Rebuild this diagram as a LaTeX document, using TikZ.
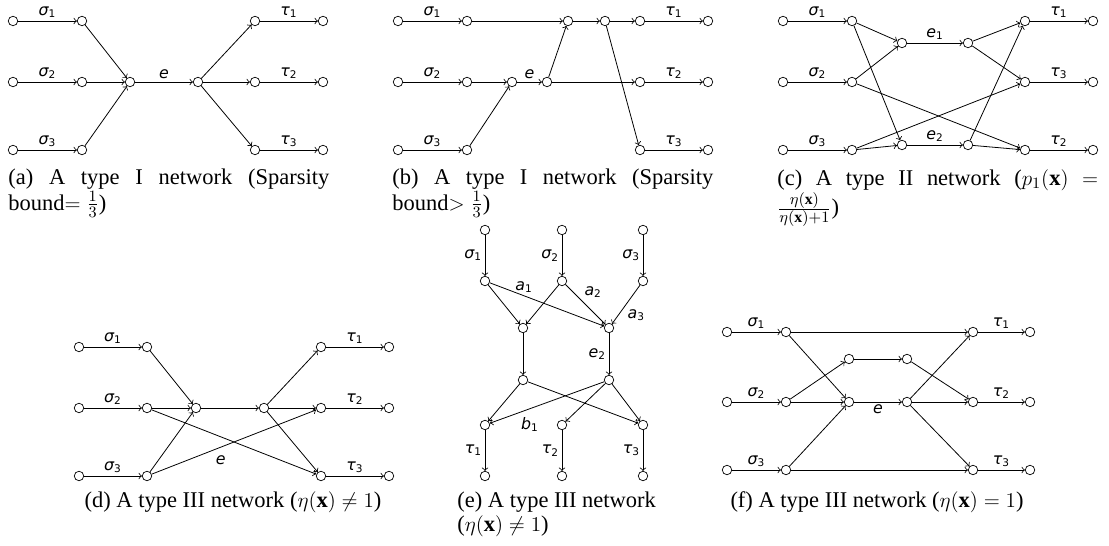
\documentclass[tikz,border=0pt]{standalone}
\usepackage{fontspec}
\usepackage{amsmath,amssymb}
\setmainfont{Liberation Serif}
\newfontfamily\lblfont{DejaVu Sans}
\usetikzlibrary{arrows,positioning}

% label with an upright index
\newcommand{\lb}[2]{{\itshape #1}\textsubscript{\upshape #2}}
\newlength{\capw}
\setlength{\capw}{6.42cm}

\begin{document}
\begin{tikzpicture}[x=0.02cm,y=-0.02cm,
    vtx/.style={circle,draw,fill=white,inner sep=0pt,minimum size=0.19cm},
    link/.style={->,line width=0.45pt},
    lab/.style={font=\lblfont\fontsize{9}{10}\selectfont,inner sep=1.5pt},
    capt/.style={font=\fontsize{12.8}{13.2}\selectfont,inner sep=0pt,align=left}
  ]
    \useasboundingbox (0,0) rectangle (1109,546);

    % (a) type I network, sparsity bound = 1/3
    \node[vtx] (as1) at (13,21) {};  \node[vtx] (au1) at (82,21) {};
    \node[vtx] (as2) at (13,82) {};  \node[vtx] (au2) at (82,82) {};
    \node[vtx] (as3) at (13,150) {}; \node[vtx] (au3) at (82,150) {};
    \node[vtx] (am) at (130,82) {};  \node[vtx] (an) at (198,82) {};
    \node[vtx] (av1) at (255,21) {}; \node[vtx] (at1) at (323,21) {};
    \node[vtx] (av2) at (255,82) {}; \node[vtx] (at2) at (323,82) {};
    \node[vtx] (av3) at (255,150) {};\node[vtx] (at3) at (323,150) {};
    \draw[link] (as1) -- node[lab,above] {\lb{σ}{1}} (au1);
    \draw[link] (as2) -- node[lab,above] {\lb{σ}{2}} (au2);
    \draw[link] (as3) -- node[lab,above] {\lb{σ}{3}} (au3);
    \draw[link] (au1) -- (am);
    \draw[link] (au2) -- (am);
    \draw[link] (au3) -- (am);
    \draw[link] (am) -- node[lab,above] {\itshape e} (an);
    \draw[link] (an) -- (av1);
    \draw[link] (an) -- (av2);
    \draw[link] (an) -- (av3);
    \draw[link] (av1) -- node[lab,above] {\lb{τ}{1}} (at1);
    \draw[link] (av2) -- node[lab,above] {\lb{τ}{2}} (at2);
    \draw[link] (av3) -- node[lab,above] {\lb{τ}{3}} (at3);
    \node[capt,anchor=north west] (capa) at (8,169)
      {\makebox[\capw][s]{(a) A type I network (Sparsity}\\bound$=\frac{1}{3}$)};

    % (b) type I network, sparsity bound > 1/3
    \node[vtx] (bs1) at (398,21) {};  \node[vtx] (bu1) at (467,21) {};
    \node[vtx] (bp) at (568,21) {};   \node[vtx] (bq) at (605,21) {};
    \node[vtx] (bv1) at (640,21) {};  \node[vtx] (bt1) at (708,21) {};
    \node[vtx] (bs2) at (398,82) {};  \node[vtx] (bu2) at (467,82) {};
    \node[vtx] (bm) at (512,82) {};   \node[vtx] (bn) at (547,82) {};
    \node[vtx] (bv2) at (640,82) {};  \node[vtx] (bt2) at (708,82) {};
    \node[vtx] (bs3) at (398,150) {}; \node[vtx] (bu3) at (467,150) {};
    \node[vtx] (bv3) at (640,150) {}; \node[vtx] (bt3) at (708,150) {};
    \draw[link] (bs1) -- node[lab,above] {\lb{σ}{1}} (bu1);
    \draw[link] (bs2) -- node[lab,above] {\lb{σ}{2}} (bu2);
    \draw[link] (bs3) -- node[lab,above] {\lb{σ}{3}} (bu3);
    \draw[link] (bu1) -- (bp);
    \draw[link] (bp) -- (bq);
    \draw[link] (bq) -- (bv1);
    \draw[link] (bq) -- (bv3);
    \draw[link] (bu2) -- (bm);
    \draw[link] (bu3) -- (bm);
    \draw[link] (bm) -- node[lab,above] {\itshape e} (bn);
    \draw[link] (bn) -- (bp);
    \draw[link] (bn) -- (bv2);
    \draw[link] (bv1) -- node[lab,above] {\lb{τ}{1}} (bt1);
    \draw[link] (bv2) -- node[lab,above] {\lb{τ}{2}} (bt2);
    \draw[link] (bv3) -- node[lab,above] {\lb{τ}{3}} (bt3);
    \node[capt,anchor=north west] (capb) at (392,169)
      {\makebox[\capw][s]{(b) A type I network (Sparsity}\\bound$>\frac{1}{3}$)};

    % (c) type II network
    \node[vtx] (cs1) at (783,21) {};  \node[vtx] (cu1) at (852,21) {};
    \node[vtx] (cv1) at (1025,21) {}; \node[vtx] (ct1) at (1093,21) {};
    \node[vtx] (cs2) at (783,82) {};  \node[vtx] (cu2) at (852,82) {};
    \node[vtx] (cv2) at (1025,82) {}; \node[vtx] (ct2) at (1093,82) {};
    \node[vtx] (cs3) at (783,150) {}; \node[vtx] (cu3) at (852,150) {};
    \node[vtx] (cv3) at (1025,150) {};\node[vtx] (ct3) at (1093,150) {};
    \node[vtx] (cm1) at (902,43) {};  \node[vtx] (cn1) at (968,43) {};
    \node[vtx] (cm2) at (902,145) {}; \node[vtx] (cn2) at (968,145) {};
    \draw[link] (cs1) -- node[lab,above] {\lb{σ}{1}} (cu1);
    \draw[link] (cs2) -- node[lab,above] {\lb{σ}{2}} (cu2);
    \draw[link] (cs3) -- node[lab,above] {\lb{σ}{3}} (cu3);
    \draw[link] (cu1) -- (cm1);
    \draw[link] (cu1) -- (cm2);
    \draw[link] (cu2) -- (cm1);
    \draw[link] (cu2) -- (cv3);
    \draw[link] (cu3) -- (cm2);
    \draw[link] (cu3) -- (cv2);
    \draw[link] (cm1) -- node[lab,above] {\lb{e}{1}} (cn1);
    \draw[link] (cm2) -- node[lab,above] {\lb{e}{2}} (cn2);
    \draw[link] (cn1) -- (cv1);
    \draw[link] (cn1) -- (cv2);
    \draw[link] (cn2) -- (cv1);
    \draw[link] (cn2) -- (cv3);
    \draw[link] (cv1) -- node[lab,above] {\lb{τ}{1}} (ct1);
    \draw[link] (cv2) -- node[lab,above] {\lb{τ}{3}} (ct2);
    \draw[link] (cv3) -- node[lab,above] {\lb{τ}{2}} (ct3);
    \node[capt,anchor=north west] (capc) at (777,169)
      {\makebox[\capw][s]{(c) A type II network ($p_1(\mathbf{x})$ $=$}\\$\frac{\eta(\mathbf{x})}{\eta(\mathbf{x})+1}$)};

    % (d) type III network, eta(x) != 1
    \node[vtx] (ds1) at (79,347) {};  \node[vtx] (du1) at (147,347) {};
    \node[vtx] (dv1) at (321,347) {}; \node[vtx] (dt1) at (389,347) {};
    \node[vtx] (ds2) at (79,408) {};  \node[vtx] (du2) at (147,408) {};
    \node[vtx] (dm) at (196,408) {};  \node[vtx] (dn) at (264,408) {};
    \node[vtx] (dv2) at (321,408) {}; \node[vtx] (dt2) at (389,408) {};
    \node[vtx] (ds3) at (79,476) {};  \node[vtx] (du3) at (147,476) {};
    \node[vtx] (dv3) at (321,476) {}; \node[vtx] (dt3) at (389,476) {};
    \draw[link] (ds1) -- node[lab,above] {\lb{σ}{1}} (du1);
    \draw[link] (ds2) -- node[lab,above] {\lb{σ}{2}} (du2);
    \draw[link] (ds3) -- node[lab,above] {\lb{σ}{3}} (du3);
    \draw[link] (du1) -- (dm);
    \draw[link] (du2) -- (dm);
    \draw[link] (du3) -- (dm);
    \draw[link] (du2) -- (dv3);
    \draw[link] (du3) -- node[lab,below=3pt,pos=0.42] {\itshape e} (dv2);
    \draw[link] (dm) -- (dn);
    \draw[link] (dn) -- (dv1);
    \draw[link] (dn) -- (dv2);
    \draw[link] (dn) -- (dv3);
    \draw[link] (dv1) -- node[lab,above] {\lb{τ}{1}} (dt1);
    \draw[link] (dv2) -- node[lab,above] {\lb{τ}{2}} (dt2);
    \draw[link] (dv3) -- node[lab,above] {\lb{τ}{3}} (dt3);
    \node[capt,anchor=base] (capd) at (233,508)
      {(d) A type III network ($\eta(\mathbf{x})\neq 1$)};

    % (e) type III network, drawn top to bottom
    \node[vtx] (es1) at (485,230) {}; \node[vtx] (es2) at (562,230) {}; \node[vtx] (es3) at (643,230) {};
    \node[vtx] (eu1) at (485,281) {}; \node[vtx] (eu2) at (562,281) {}; \node[vtx] (eu3) at (643,281) {};
    \node[vtx] (em1) at (523,328) {}; \node[vtx] (em2) at (609,328) {};
    \node[vtx] (en1) at (523,380) {}; \node[vtx] (en2) at (609,380) {};
    \node[vtx] (ev1) at (485,425) {}; \node[vtx] (ev2) at (562,425) {}; \node[vtx] (ev3) at (643,425) {};
    \node[vtx] (et1) at (485,476) {}; \node[vtx] (et2) at (562,476) {}; \node[vtx] (et3) at (643,476) {};
    \draw[link] (es1) -- node[lab,left] {\lb{σ}{1}} (eu1);
    \draw[link] (es2) -- node[lab,left] {\lb{σ}{2}} (eu2);
    \draw[link] (es3) -- node[lab,left] {\lb{σ}{3}} (eu3);
    \draw[link] (eu1) -- (em1);
    \draw[link] (eu1) -- node[lab,above,pos=0.3] {\lb{a}{1}} (em2);
    \draw[link] (eu2) -- (em1);
    \draw[link] (eu2) -- node[lab,above right,pos=0.4] {\lb{a}{2}} (em2);
    \draw[link] (eu3) -- node[lab,below right,pos=0.55] {\lb{a}{3}} (em2);
    \draw[link] (em1) -- (en1);
    \draw[link] (em2) -- node[lab,left] {\lb{e}{2}} (en2);
    \draw[link] (en1) -- (ev1);
    \draw[link] (en1) -- (ev3);
    \draw[link] (en2) -- node[lab,below=3pt,pos=0.65] {\lb{b}{1}} (ev1);
    \draw[link] (en2) -- (ev2);
    \draw[link] (en2) -- (ev3);
    \draw[link] (ev1) -- node[lab,left] {\lb{τ}{1}} (et1);
    \draw[link] (ev2) -- node[lab,left] {\lb{τ}{2}} (et2);
    \draw[link] (ev3) -- node[lab,left] {\lb{τ}{3}} (et3);
    \node[capt,anchor=north west] (cape) at (457,492)
      {(e) A type III network\\($\eta(\mathbf{x})\neq 1$)};

    % (f) type III network, eta(x) = 1
    \node[vtx] (fs1) at (727,332) {}; \node[vtx] (fu1) at (786,332) {};
    \node[vtx] (fv1) at (973,332) {}; \node[vtx] (ft1) at (1030,332) {};
    \node[vtx] (fp) at (849,359) {};  \node[vtx] (fq) at (907,359) {};
    \node[vtx] (fs2) at (727,402) {}; \node[vtx] (fu2) at (786,402) {};
    \node[vtx] (fm) at (849,402) {};  \node[vtx] (fn) at (907,402) {};
    \node[vtx] (fv2) at (973,402) {}; \node[vtx] (ft2) at (1030,402) {};
    \node[vtx] (fs3) at (727,470) {}; \node[vtx] (fu3) at (786,470) {};
    \node[vtx] (fv3) at (973,470) {}; \node[vtx] (ft3) at (1030,470) {};
    \draw[link] (fs1) -- node[lab,above] {\lb{σ}{1}} (fu1);
    \draw[link] (fs2) -- node[lab,above] {\lb{σ}{2}} (fu2);
    \draw[link] (fs3) -- node[lab,above] {\lb{σ}{3}} (fu3);
    \draw[link] (fu1) -- (fv1);
    \draw[link] (fu1) -- (fm);
    \draw[link] (fu2) -- (fp);
    \draw[link] (fu2) -- (fm);
    \draw[link] (fu3) -- (fm);
    \draw[link] (fu3) -- (fv3);
    \draw[link] (fp) -- (fq);
    \draw[link] (fm) -- node[lab,below] {\itshape e} (fn);
    \draw[link] (fq) -- (fv2);
    \draw[link] (fn) -- (fv1);
    \draw[link] (fn) -- (fv2);
    \draw[link] (fn) -- (fv3);
    \draw[link] (fv1) -- node[lab,above] {\lb{τ}{1}} (ft1);
    \draw[link] (fv2) -- node[lab,above] {\lb{τ}{2}} (ft2);
    \draw[link] (fv3) -- node[lab,above] {\lb{τ}{3}} (ft3);
    \node[capt,anchor=base] (capf) at (877,508)
      {(f) A type III network ($\eta(\mathbf{x})=1$)};
\end{tikzpicture}
\end{document}
